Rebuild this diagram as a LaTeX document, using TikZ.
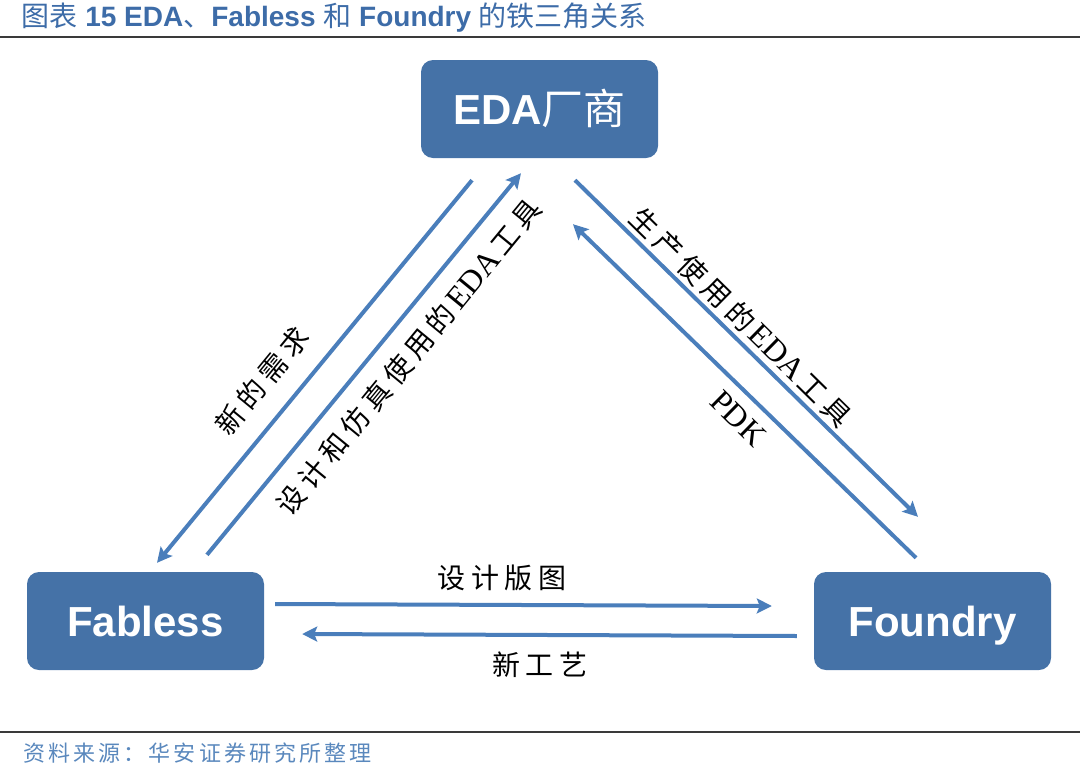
\documentclass[tikz,border=0pt]{standalone}
\usepackage{fontspec}
\setmainfont{Liberation Serif}
\setsansfont{Liberation Sans}
\newfontfamily\cjk{Noto Sans CJK SC}
\newfontfamily\cjksp[LetterSpace=20]{Noto Sans CJK SC}
\newfontfamily\cjkft[LetterSpace=14]{Noto Sans CJK SC}
\newcommand\latn[1]{\hspace{4pt}{\fontsize{32}{34}\rmfamily #1}\hspace{4pt}}
\usetikzlibrary{calc,arrows.meta}
\definecolor{boxblue}{HTML}{4572A7}
\definecolor{arrblue}{HTML}{4A7EBB}
\definecolor{ttlblue}{HTML}{3D6CA8}
\definecolor{srcblue}{HTML}{5A88BD}
\definecolor{rulegray}{HTML}{3A3A3A}
\begin{document}
\begin{tikzpicture}[x=1pt, y=-1pt,
  box/.style={fill=boxblue, rounded corners=12pt, minimum width=237pt, minimum height=98pt, text height=30pt, text depth=0pt, text=white, font=\fontsize{42}{46}\sffamily\bfseries},
  flow/.style={arrblue, line width=4pt, -{Stealth[length=15pt,width=15pt,inset=3pt]}},
  lbl/.style={font=\fontsize{28}{30}\cjksp, inner sep=0pt}]
\useasboundingbox (0,0) rectangle (1080,769);
% title and source
\node[anchor=west, text=ttlblue, font=\fontsize{28}{30}\sffamily\bfseries] (title) at (18,18) {{\mdseries\cjk 图表}\ 15 EDA{\mdseries\cjk 、}Fabless {\mdseries\cjk 和} Foundry {\mdseries\cjk 的铁三角关系}};
\draw[rulegray, line width=2pt] (0,37) -- (1080,37);
\draw[rulegray, line width=2pt] (0,732) -- (1080,732);
\node[anchor=west, text=srcblue, font=\fontsize{22}{24}\cjkft] (src) at (20,753) {资料来源：华安证券研究所整理};
% the three parties
\foreach \nm/\x/\y/\txt in {eda/539.5/109/{EDA{\mdseries\cjk 厂商}}, fab/145.5/621/Fabless, fnd/932.5/621/Foundry}
  \node[box] (\nm) at (\x,\y) {\txt};
% flows
\draw[flow] ($(fab.north)+(61.5,-17)$) -- ($(eda.south)+(-18.5,15)$);
\draw[flow] ($(eda.south)+(-67.5,22)$) -- ($(fab.north)+(11.5,-9)$);
\draw[flow] ($(eda.south)+(35.5,22)$) -- ($(fnd.north)+(-14.5,-55)$);
\draw[flow] ($(fnd.north)+(-16.5,-14)$) -- ($(eda.south)+(33.5,66)$);
\draw[flow] ($(fab.east)+(11,-17)$) -- ($(fnd.west)+(-42,-15)$);
\draw[flow] ($(fnd.west)+(-17,15)$) -- ($(fab.east)+(38,13)$);
% labels
\foreach \x/\y/\ang/\txt [count=\i] in {262/381/50.6/新的需求, 409/357/50.6/{设计和仿真使用的\latn{EDA}工具}, 741/317/-44.5/{生产使用的\latn{EDA}工具}, 737/417/-44.5/{\latn{PDK}}, 502/578/0/设计版图, 540/665/0/新工艺}
  \node[lbl, rotate=\ang] (lbl\i) at (\x,\y) {\txt};
\end{tikzpicture}
\end{document}
